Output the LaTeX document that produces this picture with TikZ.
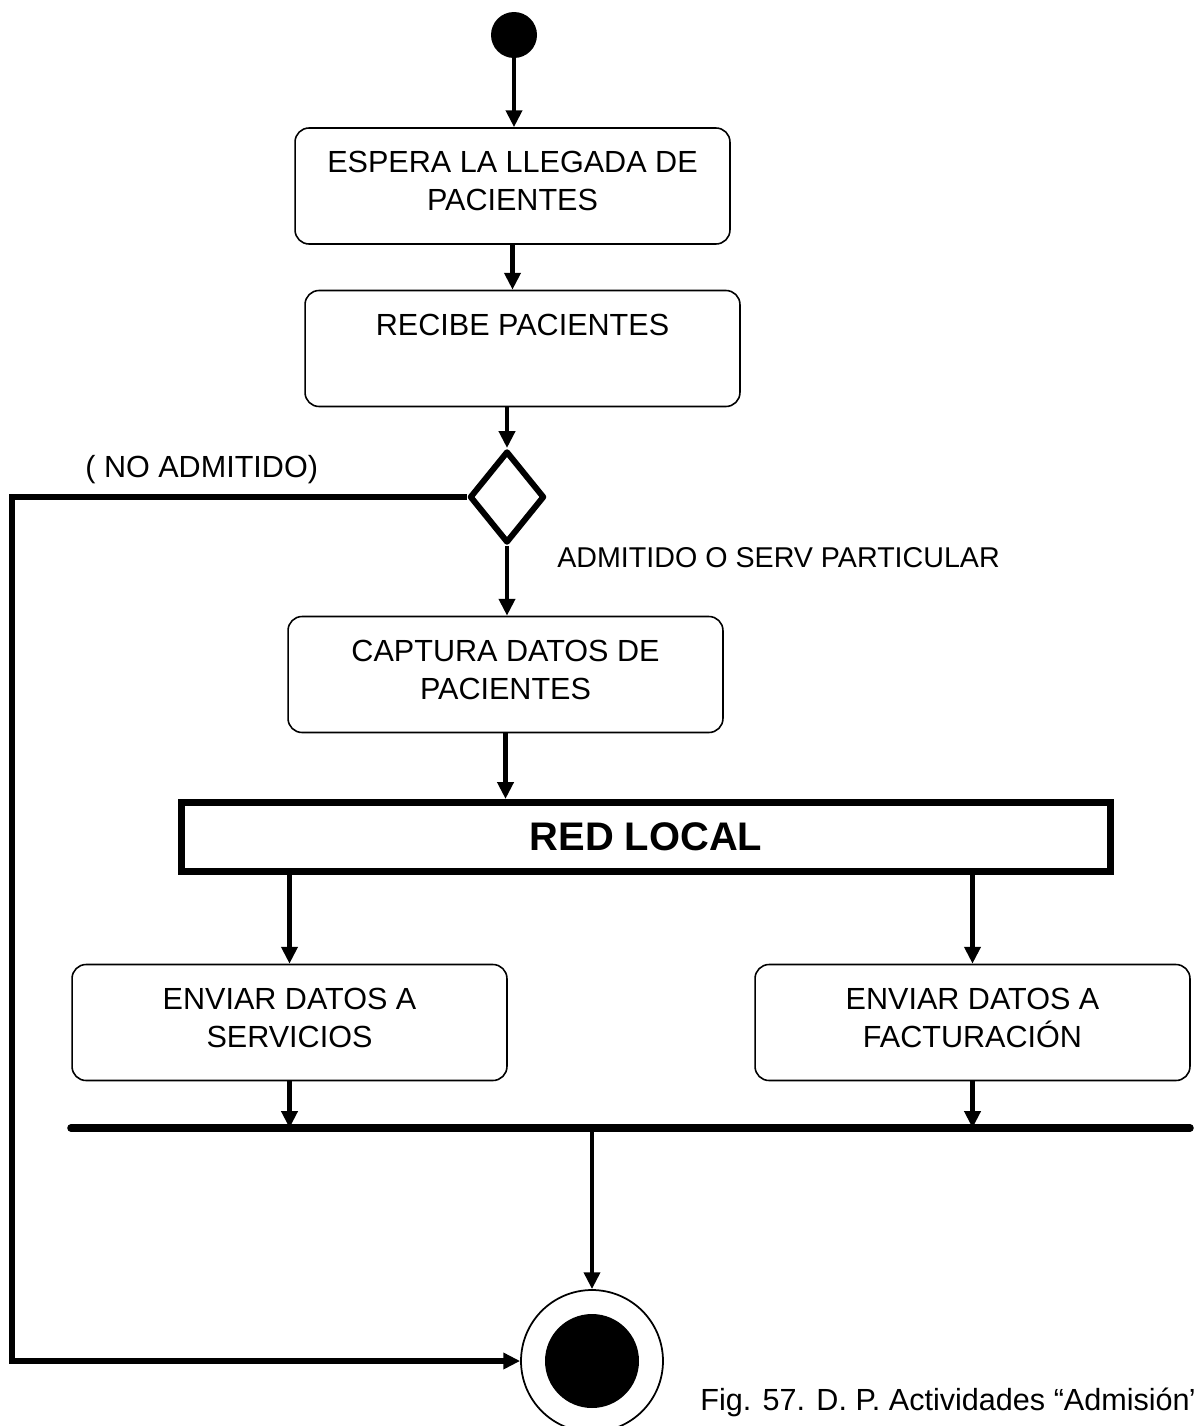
\documentclass[tikz,border=0pt]{standalone}
\usepackage{fontspec}
\setmainfont{Liberation Sans}
\usetikzlibrary{arrows.meta,shapes.geometric}

\begin{document}
\begin{tikzpicture}[
  x=0.02cm, y=-0.02cm,
  activity/.style={
    rectangle,
    rounded corners=0.28cm,
    draw=black,
    line width=0.9pt,
    minimum width=8.7cm,
    minimum height=2.32cm,
    inner sep=0pt,
    align=center,
    text depth=0.2cm,
    font=\fontsize{17.4}{21.6}\selectfont
  },
  flow/.style={
    draw=black,
    line width=2.8pt,
    -{Triangle[length=9.6pt,width=9pt]}
  },
  decision/.style={
    diamond,
    draw=black,
    line width=3.4pt,
    line join=round,
    minimum width=1.5cm,
    minimum height=1.84cm,
    inner sep=0pt
  },
  network/.style={
    rectangle,
    draw=black,
    line width=4pt,
    minimum width=18.58cm,
    minimum height=1.38cm,
    font=\bfseries\fontsize{22.7}{27}\selectfont
  },
  syncbar/.style={
    draw=black,
    line width=4.3pt,
    line cap=round
  },
  filled dot/.style={
    circle,
    fill=black,
    inner sep=0pt,
    minimum size=#1
  },
  label text/.style={
    inner sep=0pt,
    anchor=base west,
    font=\fontsize{#1}{#1}\selectfont
  }
]
\useasboundingbox (0,0) rectangle (1193,1426);

\node[filled dot=0.92cm] (init) at (514,35) {};
\node[activity] (espera) at (512.5,186) {ESPERA LA LLEGADA DE\\PACIENTES};
\node[activity] (recibe) at (522.5,348.5) {RECIBE PACIENTES\\\mbox{}};
\node[decision] (admit) at (507,497) {};
\node[activity] (captura) at (505.5,674.5) {CAPTURA DATOS DE\\PACIENTES};
\node[network] (red) at (646,837) {RED LOCAL};
\node[activity] (servicios) at (289.5,1022.5) {ENVIAR DATOS A\\SERVICIOS};
\node[activity] (facturacion) at (972.5,1022.5) {ENVIAR DATOS A\\FACTURACIÓN};
\coordinate (barL) at (71,1128);
\coordinate (barR) at (1190,1128);
\coordinate (corner) at (12,497);
\node[circle, draw=black, line width=1pt, minimum size=2.84cm, inner sep=0pt] (final) at (592,1361) {};
\node[filled dot=1.88cm] (finalDot) at (final) {};

\node[label text=17.4] (noLabel) at (85,477) {( NO ADMITIDO)};
\node[label text=16.3] (yesLabel) at (557,567) {ADMITIDO O SERV PARTICULAR};
\node[label text=17.4] (caption) at (700,1410) {Fig. 57. D. P. Actividades “Admisión”};

\draw[flow] (init.south) -- (init.south |- espera.north);
\draw[flow] (espera.south) -- (espera.south |- recibe.north);
\draw[flow] (admit.north |- recibe.south) -- (admit.north);
\draw[flow] (admit.south) -- (admit.south |- captura.north);
\draw[flow] (captura.south) -- (captura.south |- red.north);

\foreach \b in {servicios,facturacion} {
  \draw[flow] (\b.north |- red.south) -- (\b.north);
  \draw[flow] (\b.south) -- (\b.south |- barL);
}

\draw[syncbar] (barL) -- (barR);
\draw[flow] (final.north |- barL) -- (final.north);
\draw[flow, line width=3.2pt] (admit.west) -- (corner) |- (final.west);
\end{tikzpicture}
\end{document}
